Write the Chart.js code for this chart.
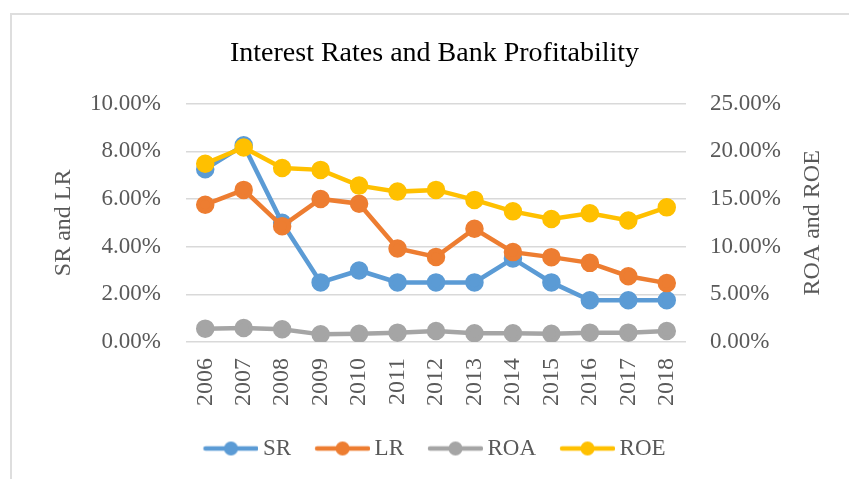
<!DOCTYPE html>
<html>
<head>
<meta charset="utf-8">
<script src="https://cdn.jsdelivr.net/npm/chart.js@4/dist/chart.umd.min.js"></script>
<style>
  html, body { margin: 0; padding: 0; background: #fff; }
  #wrap { position: relative; width: 849px; height: 479px; }
  #frame {
    position: absolute; left: 10px; top: 13px; width: 860px; height: 480px;
    border-left: 2px solid #dedede; border-top: 2px solid #dedede;
    pointer-events: none;
  }
</style>
</head>
<body>
<div id="wrap">
  <canvas id="lineChart" width="849" height="479"></canvas>
  <div id="frame"></div>
</div>
<script>
// ---------------- DATA -----------------------------
const years = ["2006", "2007", "2008", "2009", "2010", "2011", "2012",
               "2013", "2014", "2015", "2016", "2017", "2018"];

// left axis (percent)
const srValues = [7.25, 8.25, 5.0, 2.5, 3.0, 2.5, 2.5, 2.5, 3.5, 2.5, 1.75, 1.75, 1.75];
const lrValues = [5.76, 6.38, 4.86, 6.0, 5.8, 3.92, 3.57, 4.75, 3.77, 3.56, 3.32, 2.76, 2.47];

// right axis (percent)
const roaValues = [1.4, 1.46, 1.33, 0.8, 0.87, 0.98, 1.15, 0.92, 0.92, 0.87, 0.98, 0.98, 1.15];
const roeValues = [18.7, 20.4, 18.25, 18.05, 16.4, 15.77, 15.95, 14.9, 13.7, 12.9, 13.5, 12.75, 14.12];

const leftTicks = [0, 2, 4, 6, 8, 10];
const rightTicks = [0, 5, 10, 15, 20, 25];

// ---------------- STYLE -----------------------------
const FONT = "'Liberation Serif', 'DejaVu Serif', serif";
const GREY_TEXT = "#595959";
const colors = {
  SR: "#5b9bd5",
  LR: "#ed7d31",
  ROA: "#a5a5a5",
  ROE: "#ffc000",
};

// legend icon: line with a dot in the middle
function legendIcon(color) {
  const c = document.createElement("canvas");
  c.width = 62;
  c.height = 16;
  const g = c.getContext("2d");
  g.strokeStyle = color;
  g.lineWidth = 4.5;
  g.lineCap = "round";
  g.beginPath();
  g.moveTo(9, 8);
  g.lineTo(60, 8);
  g.stroke();
  g.fillStyle = color;
  g.beginPath();
  g.arc(34.5, 8, 7, 0, Math.PI * 2);
  g.fill();
  return c;
}

function lineSet(label, data, axis, order) {
  return {
    label: label,
    data: data,
    yAxisID: axis,
    order: order,
    borderColor: colors[label],
    backgroundColor: colors[label],
    borderWidth: 4.5,
    pointRadius: 7,
    pointHoverRadius: 7,
    pointStyle: "circle",
    tension: 0,
    icon: legendIcon(colors[label]),
  };
}

// right axis title reads bottom-to-top like the left one
const rightTitle = {
  id: "rightTitle",
  afterDraw(chart) {
    const s = chart.scales.y1;
    const area = chart.chartArea;
    const ctx = chart.ctx;
    ctx.save();
    ctx.translate(s.right - 26, (area.top + area.bottom) / 2);
    ctx.rotate(-Math.PI / 2);
    ctx.textAlign = "center";
    ctx.textBaseline = "middle";
    ctx.fillStyle = GREY_TEXT;
    ctx.font = "24px " + FONT;
    ctx.fillText("ROA and ROE", 0, 0);
    ctx.restore();
  },
};

// ---------------- CHART -----------------------------
const lineChartData = {
  labels: years,
  datasets: [
    lineSet("SR", srValues, "y", 3),
    lineSet("LR", lrValues, "y", 2),
    lineSet("ROA", roaValues, "y1", 1),
    lineSet("ROE", roeValues, "y1", 0),
  ],
};

const lineChartConfig = {
  type: "line",
  data: lineChartData,
  plugins: [rightTitle],
  options: {
    responsive: false,
    animation: false,
    layout: {
      padding: { left: 30, right: 10, top: 0, bottom: 9 },
    },
    plugins: {
      title: {
        display: true,
        text: "Interest Rates and Bank Profitability",
        color: "#000",
        font: { family: FONT, size: 28, weight: "normal" },
        padding: { top: 37, bottom: 33 },
      },
      legend: {
        position: "bottom",
        labels: {
          usePointStyle: true,
          pointStyleWidth: 48,
          padding: 24,
          color: GREY_TEXT,
          font: { family: FONT, size: 23 },
          sort: (a, b) => a.datasetIndex - b.datasetIndex,
          generateLabels: (chart) => {
            const items = Chart.defaults.plugins.legend.labels.generateLabels(chart);
            items.forEach((it) => {
              it.pointStyle = chart.data.datasets[it.datasetIndex].icon;
            });
            return items;
          },
        },
      },
      tooltip: { enabled: false },
    },
    scales: {
      x: {
        grid: { display: false, drawTicks: false },
        border: { display: false },
        offset: true,
        ticks: {
          minRotation: 90,
          maxRotation: 90,
          padding: 16,
          color: GREY_TEXT,
          font: { family: FONT, size: 24 },
        },
        afterFit: (s) => { s.height = 71; },
      },
      y: {
        position: "left",
        min: 0,
        max: 10,
        afterBuildTicks: (s) => { s.ticks = leftTicks.map((v) => ({ value: v })); },
        grid: { color: "#d9d9d9", lineWidth: 1.5, drawTicks: false },
        border: { display: false },
        ticks: {
          padding: 25,
          color: GREY_TEXT,
          font: { family: FONT, size: 23 },
          callback: (v) => v.toFixed(2) + "%",
        },
        title: {
          display: true,
          text: "SR and LR",
          color: GREY_TEXT,
          font: { family: FONT, size: 24 },
          padding: { top: 19, bottom: 0 },
        },
        afterFit: (s) => { s.width = 156; },
      },
      y1: {
        position: "right",
        min: 0,
        max: 25,
        afterBuildTicks: (s) => { s.ticks = rightTicks.map((v) => ({ value: v })); },
        grid: { display: false, drawTicks: false },
        border: { display: false },
        ticks: {
          padding: 24,
          color: GREY_TEXT,
          font: { family: FONT, size: 23 },
          callback: (v) => v.toFixed(2) + "%",
        },
        afterFit: (s) => { s.width = 153; },
      },
    },
  },
};

// RENDER THE CHART
const lineChart = new Chart(document.getElementById("lineChart"), lineChartConfig);
</script>
</body>
</html>
